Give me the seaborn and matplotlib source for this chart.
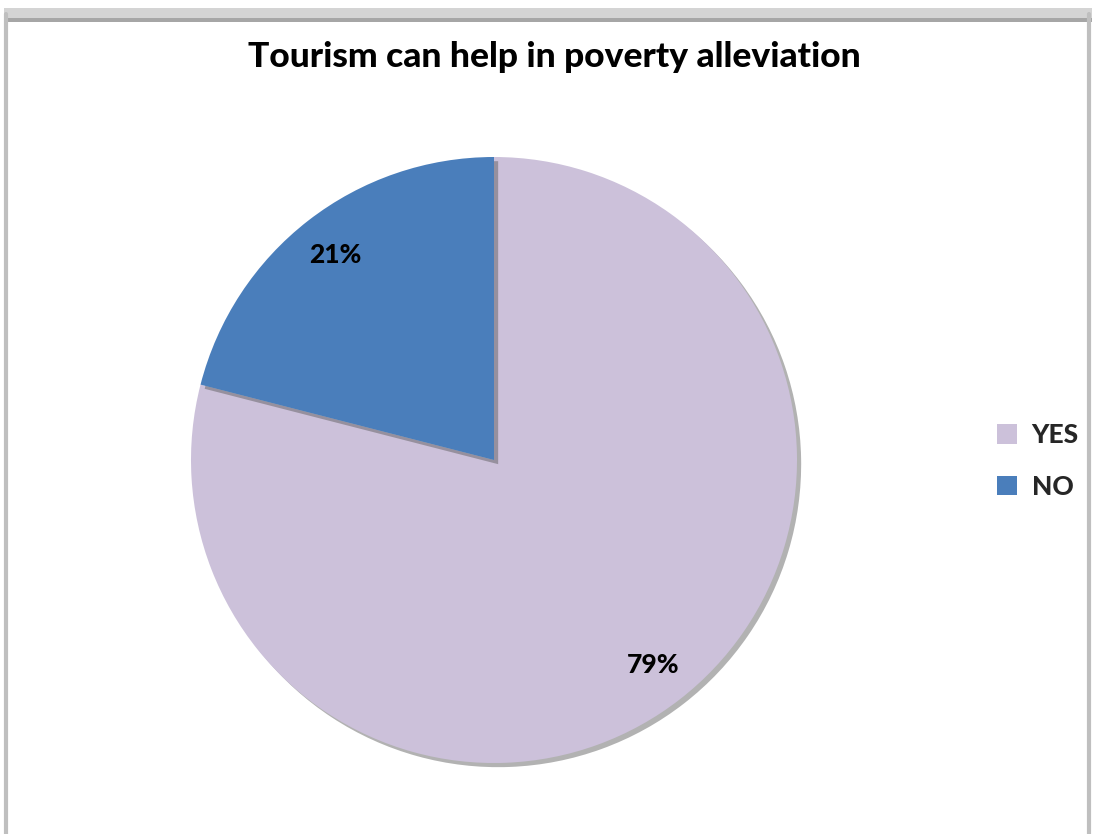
import matplotlib
matplotlib.use("Agg")
import matplotlib.pyplot as plt
import seaborn as sns
from matplotlib.patches import Patch, Rectangle
from matplotlib.lines import Line2D
import matplotlib.patheffects as pe

# Survey responses
categories = ["YES", "NO"]
shares = [79, 21]
colors = ["#CCC1DA", "#4A7EBB"]
title = "Tourism can help in poverty alleviation"

sns.set_theme(style="white")
plt.rcParams["font.family"] = ["Lato", "DejaVu Sans"]

W, H = 1096, 834
fig = plt.figure(figsize=(W / 100, H / 100), dpi=100)

# chart frame: grey shaded top band and thin side rules
fig.patches.append(Rectangle((4 / W, (H - 22) / H), (1092 - 4) / W, 14 / H,
                             transform=fig.transFigure, facecolor="#D4D4D4",
                             edgecolor="none", zorder=0))
fig.patches.append(Rectangle((4 / W, (H - 22) / H), (1092 - 4) / W, 4 / H,
                             transform=fig.transFigure, facecolor="#A6A6A6",
                             edgecolor="none", zorder=0))
for x in (6, 1089):
    fig.lines.append(Line2D([x / W, x / W], [0, (H - 14) / H],
                            transform=fig.transFigure, color="#BFBFBF", linewidth=3))

cx, cy, r = 494, 460, 303
ax = fig.add_axes([(cx - r) / W, (H - cy - r) / H, 2 * r / W, 2 * r / H])

wedges, _, autotexts = ax.pie(
    shares, colors=colors, startangle=90, counterclock=False,
    autopct=lambda p: f"{p:.0f}%", pctdistance=0.855, radius=1.0,
    wedgeprops=dict(edgecolor="none", linewidth=0),
    textprops=dict(fontsize=19, fontweight=900, color="black"),
)
for w in wedges:
    w.set_path_effects([pe.SimplePatchShadow(offset=(3, -3), shadow_rgbFace="#555555", alpha=0.45),
                        pe.Normal()])
ax.set_xlim(-1, 1)
ax.set_ylim(-1, 1)
ax.set_aspect("equal")
ax.axis("off")

fig.text(554 / W, 1 - 57 / H, title, ha="center", va="center",
         fontsize=25.5, fontweight=900, color="black")

handles = [Patch(facecolor=c, edgecolor="none") for c in colors]
fig.legend(handles, categories, loc="center left",
           bbox_to_anchor=(984 / W, 1 - 461 / H), frameon=False,
           handlelength=0.75, handleheight=0.75, handletextpad=0.55,
           labelspacing=1.05, borderpad=0, prop=dict(size=19, weight=900))

fig.savefig("out.png", dpi=100, facecolor="white")
